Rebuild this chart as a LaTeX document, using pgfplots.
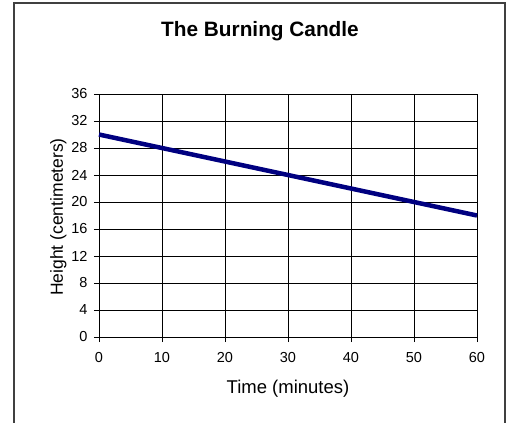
\documentclass[border=0pt]{standalone}
\usepackage{pgfplots}
\pgfplotsset{compat=1.18}
\usepackage{fontspec}
\setmainfont{Liberation Sans}
\definecolor{navyline}{RGB}{0,0,128}
\begin{document}
\begin{tikzpicture}
\clip (0pt,0pt) rectangle (506pt,-423pt);
\fill[white] (0pt,0pt) rectangle (506pt,-423pt);
\draw[line width=1.5pt, black!75] (14pt,-3pt) rectangle (505pt,-450pt);
\node[font=\fontsize{20.8}{24}\selectfont\bfseries, anchor=base] at (260pt,-36pt) {The Burning Candle};
\begin{axis}[
  at={(99pt,-337pt)}, anchor=south west,
  scale only axis, width=378pt, height=243pt,
  xmin=0, xmax=60, ymin=0, ymax=36,
  xtick={0,10,...,60}, ytick={0,4,...,36},
  xtick pos=bottom, ytick pos=left,
  grid=major,
  major grid style={black, line width=0.8pt},
  axis line style={black, line width=0.8pt},
  tick style={black, line width=0.8pt},
  tick align=outside,
  major tick length=5pt,
  /pgf/number format/assume math mode=true,
  ticklabel style={font=\fontsize{14.5}{17}\selectfont},
  xticklabel style={yshift=-7pt},
  yticklabel style={xshift=-3pt},
  every axis x label/.style={at={(axis description cs:0.5,0)}, yshift=-56pt, anchor=base, font=\fontsize{18.5}{22}\selectfont},
  every axis y label/.style={at={(axis description cs:0,0.494)}, xshift=-36pt, rotate=90, anchor=base, font=\fontsize{17.5}{21}\selectfont},
  xlabel={Time (minutes)},
  ylabel={Height (centimeters)},
  clip=false,
]
\addplot[navyline, line width=4.5pt] coordinates {(0,30) (60,18)};
\end{axis}
\end{tikzpicture}
\end{document}
